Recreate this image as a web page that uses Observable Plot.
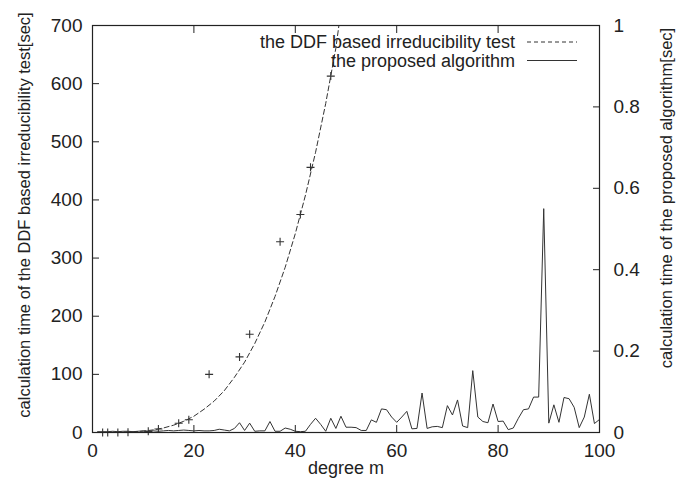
<!DOCTYPE html>
<html><head><meta charset="utf-8">
<script src="https://cdn.jsdelivr.net/npm/d3@7"></script>
<script src="https://cdn.jsdelivr.net/npm/@observablehq/plot@0.6"></script>
<style>
html,body{margin:0;padding:0;background:#fff;}
#chart svg{display:block;}
</style>
</head><body><div id="chart"></div>
<script>
// ---- data ----
const xTicks = [0, 20, 40, 60, 80, 100];
const leftTicks = [0, 100, 200, 300, 400, 500, 600, 700];
const rightTicks = [0, 0.2, 0.4, 0.6, 0.8, 1];

// measured DDF irreducibility test times (left axis, sec) at prime degrees
const ddfDegrees = [2, 3, 5, 7, 11, 13, 17, 19, 23, 29, 31, 37, 41, 43, 47];
const ddfTimes = [0, 0, 0, 0.5, 2, 6, 16, 22, 100, 130, 169, 328, 375, 456, 613];

// dashed fitted curve for the DDF test (left axis, sec)
const curveDegrees = [0, 2, 4, 6, 8, 10, 12, 14, 16, 18, 20, 22, 24, 26, 28, 30, 32, 34, 36, 38, 40, 42, 44, 46, 48, 48.6];
const curveTimes = [0, 0.01, 0.09, 0.37, 1.0, 2.3, 4.5, 7.8, 12.6, 19.3, 28, 40, 54, 72, 95, 121, 153, 190, 234, 284, 342, 408, 482, 566, 661, 700];

// proposed algorithm times (right axis, sec) for degree m = 1..100
const algDegrees = [1,2,3,4,5,6,7,8,9,10,11,12,13,14,15,16,17,18,19,20,21,22,23,24,25,26,27,28,29,30,31,32,33,34,35,36,37,38,39,40,41,42,43,44,45,46,47,48,49,50,51,52,53,54,55,56,57,58,59,60,61,62,63,64,65,66,67,68,69,70,71,72,73,74,75,76,77,78,79,80,81,82,83,84,85,86,87,88,89,90,91,92,93,94,95,96,97,98,99,100];
const algTimes = [0.002,0.002,0.002,0.003,0.002,0.003,0.003,0.002,0.003,0.004,
  0.003,0.004,0.003,0.004,0.005,0.004,0.005,0.006,0.005,0.004,
  0.005,0.004,0.004,0.005,0.008,0.006,0.004,0.010,0.024,0.005,
  0.023,0.003,0.004,0.004,0.027,0.003,0.003,0.011,0.008,0.003,
  0.002,0.003,0.020,0.035,0.020,0.003,0.035,0.010,0.040,0.013,
  0.013,0.012,0.005,0.005,0.031,0.025,0.058,0.056,0.038,0.025,
  0.038,0.052,0.009,0.010,0.097,0.010,0.014,0.015,0.012,0.066,
  0.043,0.080,0.016,0.012,0.152,0.038,0.027,0.024,0.070,0.027,
  0.028,0.007,0.011,0.035,0.056,0.058,0.087,0.087,0.550,0.023,
  0.068,0.025,0.086,0.083,0.062,0.012,0.038,0.094,0.022,0.032];

const xLabel = "degree m";
const leftLabel = "calculation time of the DDF based irreducibility test[sec]";
const rightLabel = "calculation time of the proposed algorithm[sec]";
const legendLabels = ["the DDF based irreducibility test", "the proposed algorithm"];

// ---- build ----
const leftMax = 700, rightMax = 1;
const k = leftMax / rightMax;
const ddf = ddfDegrees.map((m, i) => ({m, t: ddfTimes[i]}));
const curve = curveDegrees.map((m, i) => ({m, t: curveTimes[i]}));
const alg = algDegrees.map((m, i) => ({m, t: algTimes[i] * k}));

const ink = "#222";
const lineInk = "#333";
const font = "'Liberation Sans', Arial, Helvetica, sans-serif";

const plusSymbol = {
  draw(context, size) {
    const r = 4;
    context.moveTo(-r, 0); context.lineTo(r, 0);
    context.moveTo(0, -r); context.lineTo(0, r);
  }
};

const W = 681, H = 492;
const mL = 92, mR = 82, mT = 25, mB = 60;

const plot = Plot.plot({
  width: W, height: H,
  marginLeft: mL, marginRight: mR, marginTop: mT, marginBottom: mB,
  style: {fontFamily: font, fontSize: "19px", color: ink, background: "#fff", overflow: "visible"},
  x: {domain: [0, 100]},
  y: {domain: [0, leftMax]},
  marks: [
    // inward ticks
    Plot.axisX(xTicks, {anchor: "bottom", tickSize: -7, fill: "none", label: null, stroke: ink}),
    Plot.axisX(xTicks, {anchor: "top", tickSize: -7, fill: "none", label: null, stroke: ink}),
    Plot.axisY(leftTicks, {anchor: "left", tickSize: -7, fill: "none", label: null, stroke: ink}),
    Plot.axisY(rightTicks.map(v => v * k), {anchor: "right", tickSize: -7, fill: "none", label: null, stroke: ink}),
    // tick labels
    Plot.axisX(xTicks, {anchor: "bottom", tickSize: 0, tickPadding: 11, label: null, fill: ink}),
    Plot.axisY(leftTicks, {anchor: "left", tickSize: 0, tickPadding: 10, label: null, fill: ink}),
    Plot.axisY(rightTicks.map(v => v * k), {anchor: "right", tickSize: 0, tickPadding: 14, label: null, fill: ink,
      tickFormat: v => d3.format("~g")(Math.round(v / k * 10) / 10)}),
    // data
    Plot.line(alg, {x: "m", y: "t", stroke: lineInk, strokeWidth: 1}),
    Plot.line(curve, {x: "m", y: "t", stroke: lineInk, strokeWidth: 1, strokeDasharray: "5,3", clip: true}),
    Plot.dot(ddf, {x: "m", y: "t", symbol: plusSymbol, r: 4, stroke: lineInk, fill: "none", strokeWidth: 1.1}),
    Plot.frame({stroke: ink, strokeWidth: 1.2}),
    // axis titles
    Plot.text([xLabel], {frameAnchor: "bottom", textAnchor: "middle", dy: 41, fontSize: 18, fill: ink}),
    Plot.text([leftLabel], {frameAnchor: "left", textAnchor: "middle", rotate: -90, dx: -68, dy: -14, fontSize: 16.5, fill: ink}),
    Plot.text([rightLabel], {frameAnchor: "right", textAnchor: "middle", rotate: -90, dx: 67, dy: -31, fontSize: 16.5, fill: ink})
  ]
});

// legend (gnuplot style, inside top-right)
const svg = d3.select(plot);
const frameRight = W - mR;
const legend = svg.append("g").attr("font-family", font).attr("font-size", 18).attr("fill", ink);
const rows = [
  {label: legendLabels[0], dash: "4,3"},
  {label: legendLabels[1], dash: null}
];
rows.forEach((r, i) => {
  const y = mT + 17 + i * 18.5;
  legend.append("text").attr("x", frameRight - 84).attr("y", y).attr("dy", "0.35em")
    .attr("text-anchor", "end").text(r.label);
  const ln = legend.append("line").attr("x1", frameRight - 72).attr("x2", frameRight - 22)
    .attr("y1", y).attr("y2", y).attr("stroke", lineInk).attr("stroke-width", 1);
  if (r.dash) ln.attr("stroke-dasharray", r.dash);
});

document.getElementById("chart").appendChild(plot);
</script>
</body></html>
